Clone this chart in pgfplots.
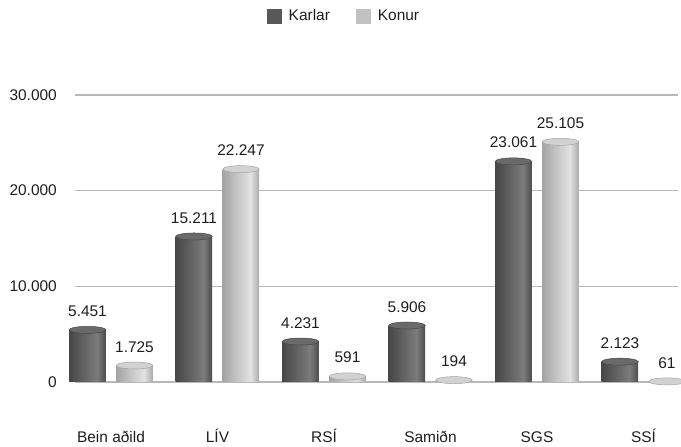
\documentclass[border=0pt]{standalone}
\usepackage{fontspec}
\setmainfont{Liberation Sans}
\usepackage{pgfplots}
\pgfplotsset{compat=1.18}
\definecolor{karlar}{HTML}{585858}
\definecolor{konur}{HTML}{C2C2C2}
\definecolor{gridgray}{HTML}{B8B8B8}
\definecolor{txt}{HTML}{1E1E1E}
\definecolor{kA}{HTML}{474747}
\definecolor{kB}{HTML}{626262}
\definecolor{kC}{HTML}{7C7C7C}
\definecolor{kD}{HTML}{4C4C4C}
\definecolor{qA}{HTML}{A4A4A4}
\definecolor{qB}{HTML}{C6C6C6}
\definecolor{qC}{HTML}{E2E2E2}
\definecolor{qD}{HTML}{ABABAB}
\definecolor{kcap}{HTML}{6A6A6A}
\definecolor{qcap}{HTML}{D2D2D2}
\pgfdeclarehorizontalshading{cylK}{100bp}{color(0bp)=(kA); color(25bp)=(kA); color(45bp)=(kB); color(63bp)=(kC); color(75bp)=(kD); color(100bp)=(kD)}
\pgfdeclarehorizontalshading{cylQ}{100bp}{color(0bp)=(qA); color(25bp)=(qA); color(45bp)=(qB); color(63bp)=(qC); color(75bp)=(qD); color(100bp)=(qD)}
\pgfdeclareplotmark{cap}{\pgfpathellipse{\pgfpointorigin}{\pgfpoint{18.25bp}{0bp}}{\pgfpoint{0bp}{3.5bp}}\pgfusepathqfillstroke}
\pgfplotsset{
  kbar/.style={bar shift=-23.5bp, draw=none, shading=cylK, forget plot,
    mark=cap, mark options={xshift=-23.5bp, fill=kcap, draw=kA, line width=0.5bp, shading=none},
    every node near coord/.append style={xshift=23.5bp}},
  qbar/.style={bar shift=23.5bp, draw=none, shading=cylQ, forget plot,
    mark=cap, mark options={xshift=23.5bp, fill=qcap, draw=qA, line width=0.5bp, shading=none},
    every node near coord/.append style={xshift=-23.5bp}},
}
\begin{document}
\begin{tikzpicture}
\path[use as bounding box] (0,0) rectangle (681bp,447bp);
\begin{axis}[
  at={(75bp,65bp)}, anchor=south west, scale only axis,
  width=603bp, height=287bp,
  xmin=-0.338, xmax=5.324, ymin=0, ymax=30000,
  clip=false,
  axis line style={draw=none},
  major tick style={draw=none},
  ymajorgrids, grid style={color=gridgray, line width=1.3bp},
  xtick={0,1,2,3,4,5},
  xticklabels={Bein aðild, LÍV, RSÍ, Samiðn, SGS, SSÍ},
  ytick={0,10000,20000,30000},
  scaled y ticks=false,
  /pgf/number format/.cd, 1000 sep={.}, assume math mode=true, /pgfplots/.cd,
  ticklabel style={font=\fontsize{15.5}{18}\selectfont, text=txt},
  yticklabel style={inner sep=0pt, anchor=east, xshift=-18bp},
  xticklabel style={inner sep=0pt, anchor=base, yshift=-56bp},
  ybar, bar width=36.5bp,
  nodes near coords,
  nodes near coords style={font=\fontsize{15.5}{18}\selectfont, text=txt, inner sep=0pt, anchor=south, yshift=13bp},
  legend columns=2,
  legend image code/.code={\fill[#1] (0bp,-7.5bp) rectangle (15bp,7.5bp); \path (20bp,0bp);},
  legend style={at={(0.446,1.275)}, anchor=center, draw=none, fill=none,
    font=\fontsize{15.5}{18}\selectfont, text=txt,
    /tikz/every even column/.append style={column sep=24bp}},
]
% Karlar
\addplot[kbar] coordinates {(0,5451)};
\addplot[kbar] coordinates {(1,15211)};
\addplot[kbar] coordinates {(2,4231)};
\addplot[kbar] coordinates {(3,5906)};
\addplot[kbar] coordinates {(4,23061)};
\addplot[kbar] coordinates {(5,2123)};
% Konur
\addplot[qbar] coordinates {(0,1725)};
\addplot[qbar] coordinates {(1,22247)};
\addplot[qbar] coordinates {(2,591)};
\addplot[qbar] coordinates {(3,194)};
\addplot[qbar] coordinates {(4,25105)};
\addplot[qbar] coordinates {(5,61)};
\addlegendimage{fill=karlar, draw=none}
\addlegendentry{Karlar}
\addlegendimage{fill=konur, draw=none}
\addlegendentry{Konur}
\end{axis}
\end{tikzpicture}
\end{document}
